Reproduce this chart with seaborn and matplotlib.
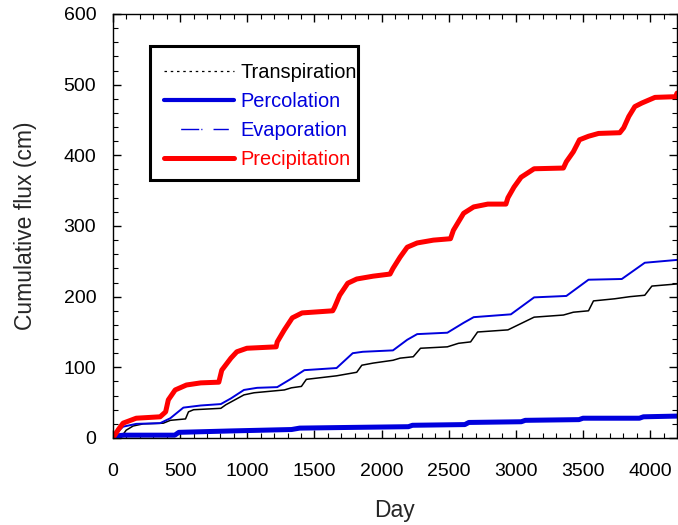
import numpy as np
import pandas as pd
import seaborn as sns
import matplotlib.pyplot as plt
from matplotlib.lines import Line2D
from matplotlib.patches import Rectangle

# Cumulative fluxes (cm)
precip_day = [0, 40, 75, 173, 351, 392, 412, 463, 547, 653, 788, 810, 878, 922, 997,
              1215, 1223, 1276, 1335, 1408, 1636, 1650, 1688, 1748, 1815, 1937, 2063,
              2085, 2138, 2191, 2265, 2386, 2513, 2535, 2611, 2686, 2791, 2926, 2941,
              2986, 3039, 3136, 3354, 3376, 3428, 3474, 3541, 3616, 3774, 3803, 3841,
              3886, 3938, 4036, 4190, 4200]
precip_val = [0, 12, 21, 28, 30, 37, 54, 68, 75, 78, 79, 96, 113, 122, 127,
              129, 136, 153, 170, 177, 180, 185, 202, 219, 225, 229, 232,
              240, 256, 270, 276, 280, 282, 294, 318, 327, 331, 331, 340,
              355, 369, 381, 382, 391, 405, 422, 427, 431, 432, 439, 455,
              469, 474, 482, 483, 488]

evap_day = [0, 30, 75, 173, 351, 427, 524, 653, 803, 878, 975, 1073, 1223, 1328, 1425,
            1665, 1785, 1860, 2085, 2191, 2265, 2490, 2611, 2686, 2963, 3136, 3376,
            3541, 3789, 3960, 4200]
evap_val = [0, 8, 16, 20, 21, 28, 43, 46, 48, 56, 68, 71, 72, 84, 96,
            99, 120, 122, 124, 139, 147, 149, 163, 171, 175, 199, 201,
            224, 225, 248, 252]

transp_day = [0, 60, 98, 150, 225, 375, 427, 540, 562, 600, 803, 840, 975, 1050, 1276,
              1328, 1403, 1425, 1440, 1665, 1815, 1853, 1937, 2085, 2138, 2236, 2290,
              2490, 2573, 2663, 2715, 2941, 3136, 3354, 3428, 3541, 3578, 3736, 3849,
              3960, 4013, 4200]
transp_val = [0, 1, 11, 17, 20, 21, 25, 27, 37, 40, 42, 47, 61, 64, 68,
              71, 73, 79, 83, 88, 93, 103, 106, 110, 113, 115, 127,
              129, 134, 136, 150, 153, 171, 174, 178, 180, 194, 197, 200,
              202, 215, 218]

perc_day = [0, 30, 80, 460, 490, 880, 1330, 1390, 1780, 2200, 2230, 2620, 2650,
            3040, 3070, 3470, 3500, 3920, 3950, 4200]
perc_val = [0, 3, 4, 4, 8, 10, 12, 14, 15, 16, 18, 19, 22,
            23, 25, 26, 28, 28, 30, 31]

blue = '#0000dd'
red = '#ff0000'

sns.set_style('ticks')
plt.rcParams['font.family'] = ['Liberation Sans', 'DejaVu Sans']

fig = plt.figure(figsize=(6.78, 5.25), dpi=100)
ax = fig.add_axes([113 / 678, 87 / 525, 564 / 678, 424 / 525])

sns.lineplot(x=transp_day, y=transp_val, ax=ax, color='black', linewidth=1.1)
sns.lineplot(x=evap_day, y=evap_val, ax=ax, color=blue, linewidth=1.4)
sns.lineplot(x=perc_day, y=perc_val, ax=ax, color=blue, linewidth=3.6)
sns.lineplot(x=precip_day, y=precip_val, ax=ax, color=red, linewidth=3.6)

ax.set_xlim(0, 4200)
ax.set_ylim(0, 600)
ax.set_xticks(np.arange(0, 4001, 500))
ax.set_xticks(np.arange(0, 4201, 100), minor=True)
ax.set_yticks(np.arange(0, 601, 100))
ax.set_yticks(np.arange(0, 601, 20), minor=True)
ax.tick_params(which='both', direction='in', top=True, right=True, labelsize=14, colors='black')
ax.tick_params(which='major', length=6, width=1)
ax.tick_params(which='minor', length=3.5, width=0.8)
ax.tick_params(axis='x', which='major', pad=18)
ax.tick_params(axis='y', which='major', pad=12)
for s in ax.spines.values():
    s.set_linewidth(1.0)
    s.set_color('black')

ax.set_xlabel('Day', fontsize=16.5, labelpad=14)
ax.set_ylabel('Cumulative flux (cm)', fontsize=16.5, labelpad=19)

handles = [
    Line2D([], [], color='black', linewidth=0.9, linestyle=(0, (2, 3))),
    Line2D([], [], color=blue, linewidth=3.0),
    Line2D([], [], color=blue, linewidth=1.0, linestyle=(34.3, (13, 1.5, 0.8, 8, 11, 12))),
    Line2D([], [], color=red, linewidth=3.6),
]
labels = ['Transpiration', 'Percolation', 'Evaporation', 'Precipitation']
leg = ax.legend(handles, labels, loc='upper left', bbox_to_anchor=(0.066, 0.918),
                borderaxespad=0, fontsize=14.4, handlelength=3.5, handletextpad=0.3,
                labelspacing=0.5, frameon=False, borderpad=0.7)
for t, c in zip(leg.get_texts(), ['black', blue, blue, red]):
    t.set_color(c)

# legend box: tight on the right, as in the original
ax.add_patch(Rectangle((0.0656, 0.6085), 0.3688, 0.316, transform=ax.transAxes,
                       fill=False, edgecolor='black', linewidth=2.2, zorder=6))

fig.savefig('out.png', dpi=100)
